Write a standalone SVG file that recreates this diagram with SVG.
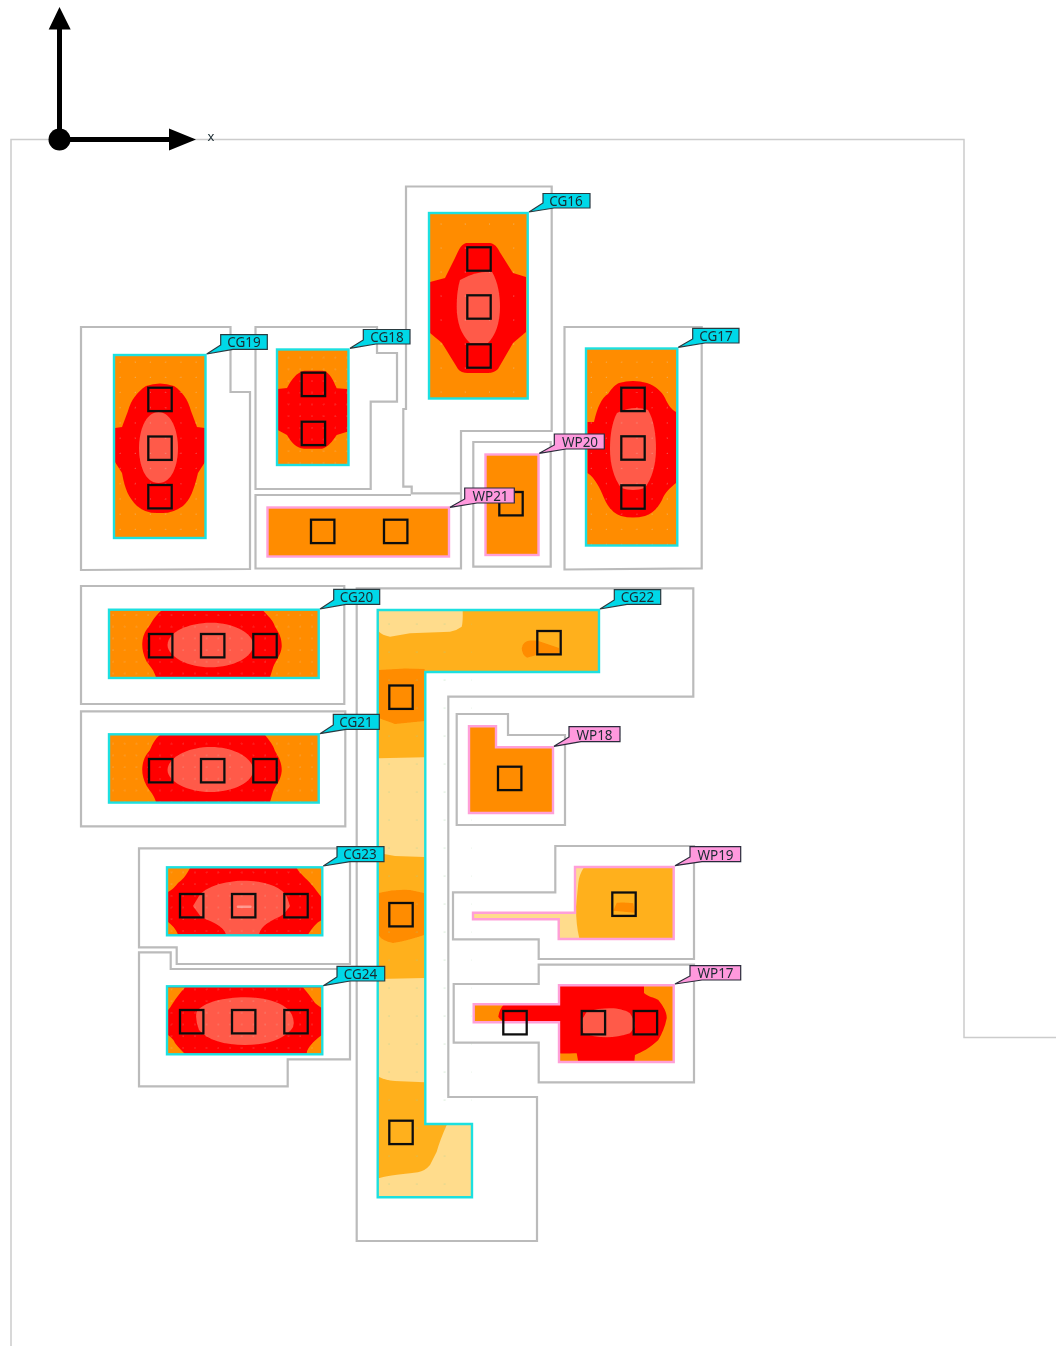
<svg xmlns="http://www.w3.org/2000/svg" width="1056" height="1346" viewBox="0 0 1056 1346">
<style>
.o{fill:none;stroke:#bbb;stroke-width:2.2}
.f{fill:none;stroke:#ccc;stroke-width:1.5}
.cg{fill:none;stroke:#1fe0e0;stroke-width:2.4}
.wp{fill:none;stroke:#ff9fd8;stroke-width:2.4}
.or{fill:#ff8c00}.re{fill:#f00}.lr{fill:#ff5a48}.am{fill:#ffb01e}.pa{fill:#ffdc8c}
.s{fill:none;stroke:#111;stroke-width:2.3}
.lc{fill:#00d8e8;stroke:#2a3a40;stroke-width:1.2}
.lp{fill:#ff99dd;stroke:#2a2a3a;stroke-width:1.2}
text{font-family:"Noto Sans",sans-serif;font-size:13.5px;fill:#1a2a30;text-anchor:middle}
</style>
<defs>
<filter id="soft" x="0" y="0" width="1056" height="1346" filterUnits="userSpaceOnUse" primitiveUnits="userSpaceOnUse"><feGaussianBlur stdDeviation="0.4"/></filter>
<pattern id="d12" width="11.7" height="11.7" patternUnits="userSpaceOnUse" x="110" y="612"><circle cx="3" cy="3" r="0.5" fill="#ddd" opacity=".7"/></pattern>
<pattern id="d15" width="15.2" height="15.2" patternUnits="userSpaceOnUse" x="115" y="357"><circle cx="5" cy="5" r="0.5" fill="#ddd" opacity=".7"/></pattern>
<pattern id="d24" width="24.2" height="24" patternUnits="userSpaceOnUse" x="430" y="215"><circle cx="11" cy="9" r="0.5" fill="#ddd" opacity=".7"/></pattern>
<pattern id="d28" width="27.8" height="28" patternUnits="userSpaceOnUse" x="380" y="611"><circle cx="9" cy="13" r="0.6" fill="#9c9" opacity=".8"/></pattern>
</defs>
<g filter="url(#soft)">
<g id="frame"><path class="f" d="M11,1346V139.500H964V1037.500H1056"/></g>

<g id="outlines">
<path class="o" d="M81,327H230.500V392H250V569L81,570Z"/>
<path class="o" d="M255.500,327H377V353H397V401.700H370.700V489H255.500Z"/>
<path class="o" d="M406,186.500H551.700V431H461V493.300H411.700V486.700H403.300V409H406Z"/>
<path class="o" d="M411,495H255.500V568.500H461V493"/>
<path class="o" d="M473.300,442H550.700V566.700H473.300Z"/>
<path class="o" d="M564.500,327H701.700V568.300L564.500,569.500Z"/>
<path class="o" d="M81,586H344.300V704H81Z"/>
<path class="o" d="M81,711.300H345.300V826.300H81Z"/>
<path class="o" d="M139,848.300H350V964H176.700V947.300H139Z"/>
<path class="o" d="M139,952.300H170.700V969H350V1059.300H287.700V1086.300H139Z"/>
<path class="o" d="M356.700,588.300H693.300V696.700H448.300V1097H537V1241H356.700Z"/>
<path class="o" d="M456.700,714H508V735H565V825H456.700Z"/>
<path class="o" d="M555.300,846H694V959H538.700V939.300H453V892.300H555.300Z"/>
<path class="o" d="M538.700,964.700H694V1082.300H538.700V1042.700H453.700V984H538.700Z"/>
</g>

<g id="CG19">
<rect class="or" x="114" y="355" width="91.500" height="183"/>
<path class="re" d="M146,386Q160,381 174,386C183,392 188,400 191,411L197,427L205,428V462L198,473C194,490 190,500 183,506Q172,514 160,513Q146,514 137,506C129,498 125,490 122,473L115,462V428L122,427L128,411C131,400 137,392 146,386Z"/>
<path class="lr" d="M158.500,412C172,412 178,432 178,448C178,465 172,483 158.500,483C145,483 139,465 139,448C139,432 145,412 158.500,412Z"/>
<rect fill="url(#d15)" x="114" y="355" width="91.500" height="183"/>
<rect class="cg" x="114" y="355" width="91.500" height="183"/>
<rect class="s" x="148.300" y="387.700" width="23.400" height="23.400"/><rect class="s" x="148.300" y="436.500" width="23.400" height="23.400"/><rect class="s" x="148.300" y="485" width="23.400" height="23.400"/>
</g>

<g id="CG18">
<rect class="or" x="277" y="349.500" width="71.500" height="115.500"/>
<path class="re" d="M304,370.700H323C330,372 333,380 336.700,388.300L347.300,389V431.700L336.700,435C332,442 328,447 322,448.700H304C296,448 291,442 287,435L277.700,430V389L287,388C292,379 296,373 304,370.700Z"/>
<rect fill="url(#d12)" x="277" y="349.500" width="71.500" height="115.500"/>
<rect class="cg" x="277" y="349.500" width="71.500" height="115.500"/>
<rect class="s" x="301.700" y="372.700" width="23.400" height="23.400"/><rect class="s" x="301.700" y="421.700" width="23.400" height="23.400"/>
</g>

<g id="CG16">
<rect class="or" x="429" y="213" width="98.700" height="185.500"/>
<path class="re" d="M466,243H490C496,244 498,249 501,254L513,273L526,277V332L513,343L498,369Q494,373 488,373H468Q461,373 458,369L442,343L430,333V282L445,278L455,258C458,252 460,245 466,243Z"/>
<path class="lr" d="M460,280Q475,271 492,271.700C498,282 500,295 500,307C500,322 496,335 488,343H470C461,335 456.700,322 456.700,307C456.700,295 458,287 460,280Z"/>
<rect fill="url(#d24)" x="429" y="213" width="98.700" height="185.500"/>
<rect class="cg" x="429" y="213" width="98.700" height="185.500"/>
<rect class="s" x="467.300" y="247.300" width="23.400" height="23.400"/><rect class="s" x="467.300" y="295.300" width="23.400" height="23.400"/><rect class="s" x="467.300" y="344.300" width="23.400" height="23.400"/>
</g>

<g id="WP21">
<rect class="or" x="267.500" y="507.500" width="181.500" height="49"/>
<rect class="wp" x="267.500" y="507.500" width="181.500" height="49"/>
<rect class="s" x="311" y="519.700" width="23.400" height="23.400"/><rect class="s" x="384" y="519.700" width="23.400" height="23.400"/>
</g>

<g id="WP20">
<rect class="or" x="485.500" y="454.500" width="53" height="100.500"/>
<rect class="wp" x="485.500" y="454.500" width="53" height="100.500"/>
<rect class="s" x="499.300" y="492" width="23.400" height="23.400"/>
</g>

<g id="CG17">
<rect class="or" x="586" y="348.500" width="91.300" height="197"/>
<path class="re" d="M619,383Q633,379 647,383C656,386 662,392 665,398C668,405 672,410 676,412V483C670,488 665,492 662,500C658,508 652,514 645,516Q633,519 621,516C612,513 607,505 604,498C600,488 595,478 587.500,473V422H594C597,408 602,397 608,394C612,388 615,385 619,383Z"/>
<path class="lr" d="M617,413Q633,405 648,410C654,420 656,435 656,449C656,465 652,478 645,488Q633,492 621,488C614,478 610,465 610,449C610,435 612,422 617,413Z"/>
<rect fill="url(#d15)" x="586" y="348.500" width="91.300" height="197"/>
<rect class="cg" x="586" y="348.500" width="91.300" height="197"/>
<rect class="s" x="621.300" y="387.700" width="23.400" height="23.400"/><rect class="s" x="621.300" y="436.300" width="23.400" height="23.400"/><rect class="s" x="621.300" y="485.300" width="23.400" height="23.400"/>
</g>

<g id="CG20">
<rect class="or" x="109" y="609.700" width="209.700" height="68.300"/>
<path class="re" d="M162.300,610H262.700C268,616 273,620 275,626.700C280,634 282,640 281.700,646.700C281,655 276,660 273.300,666.700L270,677.300H156C154,670 150,666 146.700,661.700C143,654 142,648 142.300,643C143,634 146,630 150,625C154,618 157,614 162.300,610Z"/>
<path class="lr" d="M167.500,645C168,632 188,622.700 211,622.700C234,622.700 253,633 253.300,645C253,657 234,667.300 210,667.300C188,667.300 168,657 167.500,645Z"/>
<rect fill="url(#d12)" x="109" y="609.700" width="209.700" height="68.300"/>
<rect class="cg" x="109" y="609.700" width="209.700" height="68.300"/>
<rect class="s" x="149" y="634" width="23.400" height="23.400"/><rect class="s" x="201" y="634" width="23.400" height="23.400"/><rect class="s" x="253.300" y="634" width="23.400" height="23.400"/>
</g>

<g id="CG21">
<rect class="or" x="109" y="734.300" width="209.700" height="68.300"/>
<path class="re" d="M160,735H265C270,741 273,745 275,751C280,759 282,765 281.700,771C281,780 276,785 273.300,791L270,802H156C154,795 150,791 146.700,786C143,779 142,773 142.300,768C143,759 146,755 150,750C153,743 155,739 160,735Z"/>
<path class="lr" d="M167.500,770C168,757 188,747 211,747C234,747 253,758 253.300,770C253,782 234,792 210,792C188,792 168,782 167.500,770Z"/>
<rect fill="url(#d12)" x="109" y="734.300" width="209.700" height="68.300"/>
<rect class="cg" x="109" y="734.300" width="209.700" height="68.300"/>
<rect class="s" x="149" y="759" width="23.400" height="23.400"/><rect class="s" x="201" y="759" width="23.400" height="23.400"/><rect class="s" x="253.300" y="759" width="23.400" height="23.400"/>
</g>

<g id="CG23">
<rect class="re" x="167" y="867.300" width="155.300" height="68"/>
<path class="or" d="M168,868H190C186,876 182,880 178,883C175,887 172,890 168,892ZM296.700,868H322V898C318,893 315,888 311,884C306,878 300,874 296.700,868ZM168,922C172,925 176,929 178,934.500H168ZM321.700,920V934.500H308C312,928 316,923 321.700,920Z"/>
<path class="lr" d="M193,906L199,896C205,887 225,880.700 243,880.700C265,880.700 282,887 287,897L290,906L284,914C275,920 262,923 259,934.500H226C224,926 210,921 201,917Z"/>
<rect x="236.700" y="905.500" width="15" height="2.500" rx="1.200" fill="#ff9a90"/>
<rect fill="url(#d12)" x="167" y="867.300" width="155.300" height="68"/>
<rect class="cg" x="167" y="867.300" width="155.300" height="68"/>
<rect class="s" x="180" y="894" width="23.400" height="23.400"/><rect class="s" x="232" y="894" width="23.400" height="23.400"/><rect class="s" x="284.300" y="894" width="23.400" height="23.400"/>
</g>

<g id="CG24">
<rect class="re" x="167" y="986.300" width="155.300" height="68"/>
<path class="or" d="M168,987.500H185C180,993 176,998 173,1003C171,1006 170,1008 168,1010ZM303,987.500H322V1008C319,1006 317,1005 315,1003C311,997 307,992 303,987.500ZM168,1035C171,1037 174,1040 175,1043C179,1048 182,1051 185,1054H168ZM321.700,1035V1054H306.700C307,1050 308,1049 310,1046C314,1041 318,1038 321.700,1035Z"/>
<path class="lr" d="M196.500,1012C203,1002 225,997.300 245,997.300C270,997.300 288,1005 292,1015Q296,1025 291,1030C280,1042 262,1045 245,1045C225,1045 207,1040 199,1030Q195,1020 196.500,1012Z"/>
<rect fill="url(#d12)" x="167" y="986.300" width="155.300" height="68"/>
<rect class="cg" x="167" y="986.300" width="155.300" height="68"/>
<rect class="s" x="180" y="1010" width="23.400" height="23.400"/><rect class="s" x="232" y="1010" width="23.400" height="23.400"/><rect class="s" x="284.300" y="1010" width="23.400" height="23.400"/>
</g>

<g id="CG22">
<path class="am" d="M377.700,610H599V672H425.300V1124H472V1197.300H377.700Z"/>
<path class="pa" d="M379,611H462.700Q463,622 461.700,626.700Q456,631 450,631.700L410,633.300L390,636.700Q382,635 379,631.700Z"/>
<path class="or" d="M521.700,648.300Q523,641 530,640.500H537L559,648V654L536.700,655L527,657.700Q522,655 521.700,648.300Z"/>
<path class="or" d="M378.500,670L405,668.500L424.700,669V721L395,724L378.500,718Z"/>
<path class="pa" d="M378.500,758.300L424.700,757.300V857L395,856L378.500,853Z"/>
<path class="or" d="M378.500,893Q395,889 410,890L424,893V935Q410,940 393,943Q382,941 378.500,935Z"/>
<path class="pa" d="M378.500,979L424.700,978V1082.300L395,1081Q385,1080 378.500,1076.700Z"/>
<path class="pa" d="M446.700,1125H471V1196H378.500V1178.300Q385,1176 418,1172.300Q425,1171 430,1165L436.700,1151.700Q440,1140 446.700,1125Z"/>
<rect fill="url(#d28)" x="378" y="610" width="94" height="587"/>
<path class="cg" d="M377.700,610H599V672H425.300V1124H472V1197.300H377.700Z"/>
<rect class="s" x="537.300" y="631" width="23.400" height="23.400"/><rect class="s" x="389.300" y="685.500" width="23.400" height="23.400"/><rect class="s" x="389.300" y="903" width="23.400" height="23.400"/><rect class="s" x="389.300" y="1120.700" width="23.400" height="23.400"/>
</g>

<g id="WP18">
<path class="or" d="M469,726.300H496V747.300H553V813H469Z"/>
<path class="wp" d="M469,726.300H496V747.300H553V813H469Z"/>
<rect class="s" x="498" y="766.700" width="23.400" height="23.400"/>
</g>

<g id="WP19">
<path class="am" d="M575,867H673.700V939H558.700V919.300H473V912.700H575Z"/>
<path class="pa" d="M575.700,867.300H584Q579,875 578.300,883L576,906.700Q576,925 579.300,938.300H559.300V919.300H473.300V912.700H575Z"/>
<path class="or" d="M616.700,902.700Q625,902 633.300,903.300L635,912.700L613.300,910.700Z"/>
<path class="wp" d="M575,867H673.700V939H558.700V919.300H473V912.700H575Z"/>
<rect class="s" x="612.300" y="892.500" width="23.400" height="23.400"/>
</g>

<g id="WP17">
<path class="re" d="M559,985.300H673.700V1062H559V1022.300H473.700V1004.300H559Z"/>
<path class="or" d="M473.700,1004.300H504Q499,1010 498.300,1016.700Q500,1020 505,1022.300H473.700ZM644,985.300V993C648,997 654,997 658.300,1000C664,1007 667,1013 666.700,1018.300C665,1027 662,1034 658.300,1040C650,1048 642,1052 635,1055L634.300,1062H673.700V985.300ZM559,1053.300C565,1054 571,1053 576.700,1053.300L578.300,1062H559Z"/>
<path class="lr" d="M586.700,1011.700C595,1009 605,1008 613.300,1008.300C621,1009 627,1011 630,1013.300C633,1018 635,1022 635,1026.700L630,1033.300C622,1036 614,1037 606.700,1037.300C598,1037 590,1036 583.300,1033.300L581.700,1020Z"/>
<path class="wp" d="M559,985.300H673.700V1062H559V1022.300H473.700V1004.300H559Z"/>
<rect class="s" x="503.300" y="1011" width="23.400" height="23.400"/><rect class="s" x="581.700" y="1011" width="23.400" height="23.400"/><rect class="s" x="633.700" y="1011" width="23.400" height="23.400"/>
</g>

<g id="labels">
<path class="lc" d="M543,193.500H590V208H554L529,212L543,203Z"/><text x="566" y="205.500">CG16</text>
<path class="lc" d="M220.700,334.700H267.300V349.300H233L206.700,354L220.700,345Z"/><text x="244" y="347">CG19</text>
<path class="lc" d="M363.300,329.500H410V344H376L350,348.300L363.300,340Z"/><text x="387" y="342">CG18</text>
<path class="lc" d="M692.700,328.300H739V343H705L678.300,347.300L692.700,339Z"/><text x="716" y="340.500">CG17</text>
<path class="lp" d="M554.300,434H604.300V449H566L539.300,453.300L554.300,445Z"/><text x="580" y="446.500">WP20</text>
<path class="lp" d="M464.700,488H514.300V503H477L450,507.300L464.700,499Z"/><text x="490.500" y="500.500">WP21</text>
<path class="lc" d="M333.700,589.300H379.700V604.300H346L320,609L333.700,600Z"/><text x="356.500" y="601.500">CG20</text>
<path class="lc" d="M333.300,714.300H379.300V729.300H346L320,733.700L333.300,725Z"/><text x="356" y="726.500">CG21</text>
<path class="lc" d="M337,846.700H384V861.700H350L323.300,866L337,857Z"/><text x="360" y="859">CG23</text>
<path class="lc" d="M337,966.300H384.700V981H350L323.300,985.700L337,977Z"/><text x="360.500" y="978.500">CG24</text>
<path class="lc" d="M614.300,589.700H660.700V604.300H627L600,609L614.300,600Z"/><text x="637.500" y="601.500">CG22</text>
<path class="lp" d="M569,726.700H620V741.700H581L554,746.300L569,737Z"/><text x="594.500" y="739.500">WP18</text>
<path class="lp" d="M690,846.700H740.700V861.700H702L675,865.700L690,857Z"/><text x="715.500" y="859.500">WP19</text>
<path class="lp" d="M690,965.700H740.700V980H702L675,984L690,976Z"/><text x="715.500" y="977.500">WP17</text>
</g>

<g id="axes">
<path d="M59.500,139.500V28M59.500,139.500H171" stroke="#000" stroke-width="5" fill="none"/>
<circle cx="59.500" cy="139.500" r="11"/>
<path d="M48.700,29.500L59.500,7L70.700,29.500ZM169,128.500L196,139.500L169,150.500Z"/>
<text x="211" y="141" style="font-size:13px">x</text>
</g>
</g>
</svg>
